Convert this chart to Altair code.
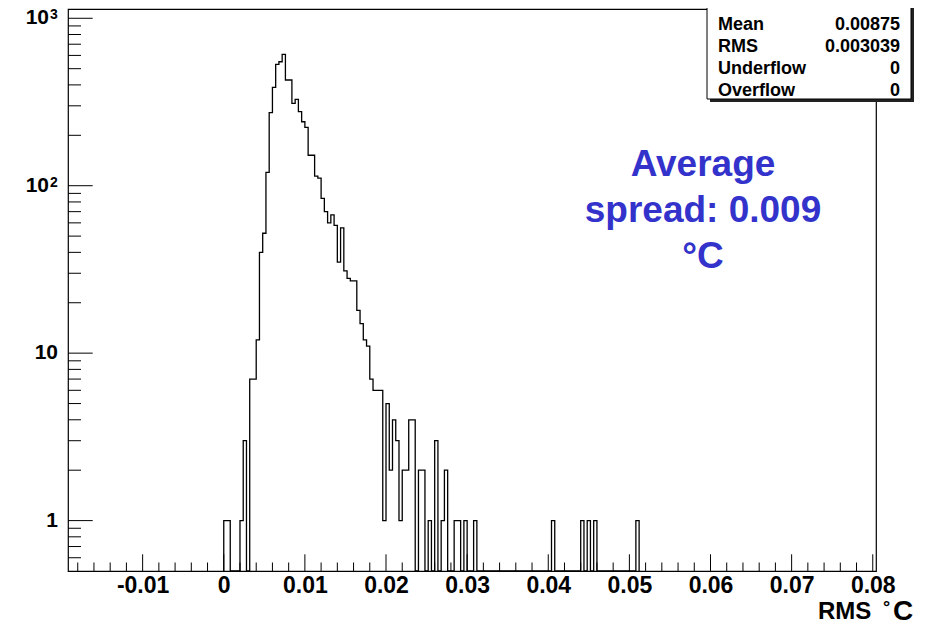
import altair as alt
import pandas as pd

# ---------------- data ----------------
BIN_WIDTH = 0.0004          # degC
FIRST_EDGE = 0.0            # low edge of the first listed bin
COUNTS = [
    1, 1, 0, 0, 0, 1, 3, 0, 7, 7,
    12, 40, 52, 120, 273, 387, 531, 550, 609, 428,
    428, 310, 328, 277, 241, 223, 152, 152, 114, 111,
    84, 70, 60, 67, 58, 35, 56, 31, 28, 27,
    27, 18, 15, 12, 11, 7, 6, 6, 6, 1,
    5, 2, 4, 3, 1, 2, 2, 4, 4, 0,
    2, 2, 0, 1, 0, 3, 0, 1, 2, 0,
    0, 1, 1, 0, 1, 0, 0, 1, 0, 0,
    0, 0, 0, 0, 0, 0, 0, 0, 0, 0,
    0, 0, 0, 0, 0, 0, 0, 0, 0, 0,
    0, 1, 0, 0, 0, 0, 0, 0, 0, 0,
    1, 0, 1, 0, 1, 0, 0, 0, 0, 0,
    0, 0, 0, 0, 0, 0, 0, 1,
]

X_MIN, X_MAX = -0.0192, 0.0804
Y_MIN, Y_MAX = 0.5, 1136

X_MAJOR = [-0.01, 0.0, 0.01, 0.02, 0.03, 0.04, 0.05, 0.06, 0.07, 0.08]
X_MINOR = [-0.018, -0.016, -0.014, -0.012, -0.008, -0.006, -0.004, -0.002,
           0.002, 0.004, 0.006, 0.008, 0.012, 0.014, 0.016, 0.018,
           0.022, 0.024, 0.026, 0.028, 0.032, 0.034, 0.036, 0.038,
           0.042, 0.044, 0.046, 0.048, 0.052, 0.054, 0.056, 0.058,
           0.062, 0.064, 0.066, 0.068, 0.072, 0.074, 0.076, 0.078]
Y_MAJOR = [1, 10, 100, 1000]
Y_MINOR = [0.6, 0.7, 0.8, 0.9, 2, 3, 4, 5, 6, 7, 8, 9,
           20, 30, 40, 50, 60, 70, 80, 90, 200, 300, 400, 500, 600, 700, 800, 900]
# y labels: plain ones, and "10" with an exponent for the upper decades
Y_PLAIN = [1, 10]
Y_PLAIN_TEXT = ["1", "10"]
Y_POW = [100, 1000]
Y_POW_EXP = ["2", "3"]

STAT_NAMES = ["Entries", "Mean", "RMS", "Underflow", "Overflow"]
STAT_VALUES = ["6010", "0.00875", "0.003039", "0", "0"]
NOTE_LINES = ["Average", "spread: 0.009", "°C"]
NOTE_COLOR = "#3333CC"

FONT = "Liberation Sans"
W, H = 808, 562

# ---------------- step outline of the histogram ----------------
rows = []
order = 0
rows.append({"x": FIRST_EDGE, "y": Y_MIN, "o": order}); order += 1
for i, c in enumerate(COUNTS):
    lo = FIRST_EDGE + i * BIN_WIDTH
    hi = lo + BIN_WIDTH
    v = c if c > 0 else Y_MIN
    rows.append({"x": lo, "y": v, "o": order}); order += 1
    rows.append({"x": hi, "y": v, "o": order}); order += 1
rows.append({"x": FIRST_EDGE + len(COUNTS) * BIN_WIDTH, "y": Y_MIN, "o": order})
hist = pd.DataFrame(rows)

xscale = alt.Scale(domain=[X_MIN, X_MAX], nice=False, zero=False)
yscale = alt.Scale(type="log", domain=[Y_MIN, Y_MAX], nice=False)

x_label_expr = ("datum.value == 0 ? '0' : (datum.value < 0 ? '-' : '') + "
                "format(abs(datum.value), '.2f')")

line = alt.Chart(hist).mark_line(color="black", strokeWidth=1.3, clip=True,
                                 interpolate="linear").encode(
    x=alt.X("x:Q", scale=xscale, title=None,
            axis=alt.Axis(values=X_MAJOR, labelExpr=x_label_expr, ticks=False,
                          domain=False, grid=False, labelFont=FONT,
                          labelFontWeight="bold", labelFontSize=23,
                          labelColor="black", labelPadding=3, labelFlush=False)),
    y=alt.Y("y:Q", scale=yscale, title=None, axis=None),
    order="o:Q",
)

def xticks(vals, length):
    return alt.Chart(pd.DataFrame({"t": vals})).mark_rule(
        color="black", strokeWidth=1).encode(
        x=alt.X("t:Q", scale=xscale), y=alt.value(H), y2=alt.value(H - length))

def yticks(vals, length):
    return alt.Chart(pd.DataFrame({"t": vals})).mark_rule(
        color="black", strokeWidth=1).encode(
        y=alt.Y("t:Q", scale=yscale), x=alt.value(0), x2=alt.value(length))

ylab_plain = alt.Chart(pd.DataFrame({"v": Y_PLAIN, "s": Y_PLAIN_TEXT})).mark_text(
    font=FONT, fontWeight="bold", fontSize=21, align="right", baseline="middle",
    color="black").encode(y=alt.Y("v:Q", scale=yscale), x=alt.value(-10), text="s:N")
ylab_base = alt.Chart(pd.DataFrame({"v": Y_POW, "s": ["10", "10"]})).mark_text(
    font=FONT, fontWeight="bold", fontSize=21, align="right", baseline="middle",
    color="black").encode(y=alt.Y("v:Q", scale=yscale), x=alt.value(-19), text="s:N")
ylab_exp = alt.Chart(pd.DataFrame({"v": Y_POW, "s": Y_POW_EXP})).mark_text(
    font=FONT, fontWeight="bold", fontSize=14, align="left", baseline="alphabetic",
    dy=1, color="black").encode(y=alt.Y("v:Q", scale=yscale), x=alt.value(-18), text="s:N")

one = pd.DataFrame({"d": [0]})

def text_at(txt, px, py, size, align="left", color="black", baseline="middle"):
    return alt.Chart(one).mark_text(
        text=txt, font=FONT, fontWeight="bold", fontSize=size, align=align,
        baseline=baseline, color=color).encode(x=alt.value(px), y=alt.value(py))

# stats box (plot coordinates)
BX0, BX1, BY0, BY1 = 639, 843, -40, 90
shadow = alt.Chart(one).mark_rect(color="#222222").encode(
    x=alt.value(BX0 + 3), x2=alt.value(BX1 + 3), y=alt.value(BY0 + 3), y2=alt.value(BY1 + 3))
box = alt.Chart(one).mark_rect(fill="white", stroke="black", strokeWidth=1).encode(
    x=alt.value(BX0), x2=alt.value(BX1), y=alt.value(BY0), y2=alt.value(BY1))

stat_layers = []
for i, (n, v) in enumerate(zip(STAT_NAMES, STAT_VALUES)):
    yy = -6 + 22 * i
    stat_layers.append(text_at(n, 650, yy, 18))
    stat_layers.append(text_at(v, 832, yy, 18, align="right"))

note_layers = [text_at(t, 635, 167 + 46 * i, 37, align="center", color=NOTE_COLOR,
                       baseline="alphabetic") for i, t in enumerate(NOTE_LINES)]

title_layers = [
    text_at("RMS", 750, 610, 24, baseline="alphabetic"),
    text_at("°", 815, 604, 18, baseline="alphabetic"),
    text_at("C", 825, 611, 28, baseline="alphabetic"),
]

chart = alt.layer(
    line,
    xticks(X_MAJOR, 16.7), xticks(X_MINOR, 8.5),
    yticks(Y_MAJOR, 24.7), yticks(Y_MINOR, 13),
    ylab_plain, ylab_base, ylab_exp,
    shadow, box, *stat_layers, *note_layers, *title_layers,
).properties(
    width=W, height=H,
    padding={"left": 60, "top": 1, "right": 46, "bottom": 51},
    autosize=alt.AutoSizeParams(type="none"),
    background="white",
).configure_view(stroke="black", strokeWidth=1.2)

chart.save("out.html", embed_options={"renderer": "svg", "actions": False})
